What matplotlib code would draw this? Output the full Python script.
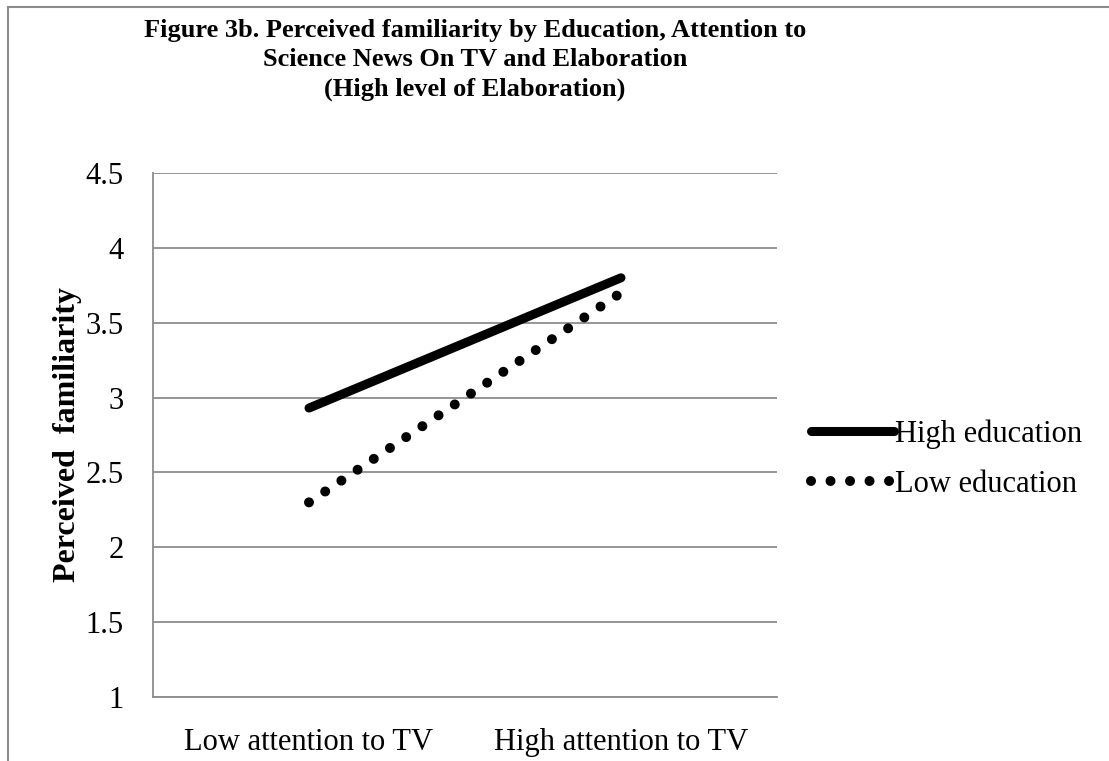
import matplotlib
matplotlib.use("Agg")
import matplotlib.pyplot as plt
from matplotlib.lines import Line2D

categories = ["Low attention to TV", "High attention to TV"]
high_edu = [2.93, 3.80]
low_edu = [2.30, 3.70]
yticks = [1, 1.5, 2, 2.5, 3, 3.5, 4, 4.5]
ytick_labels = ["1", "1.5", "2", "2.5", "3", "3.5", "4", "4.5"]

plt.rcParams['font.family'] = ['Liberation Serif', 'DejaVu Serif']

fig = plt.figure(figsize=(11.09, 7.61), dpi=100)
ax = fig.add_axes([153/1109, 1-697/761, (777-153)/1109, (697-173)/761])

x = list(range(len(categories)))
ax.plot(x, high_edu, color='black', lw=6.5, solid_capstyle='round', label='High education')
ax.plot(x, low_edu, color='black', lw=7.2, linestyle=(0, (0.001, 1.95)), dash_capstyle='round',
        label='Low education')

ax.set_xlim(-0.5, 1.5)
ax.set_ylim(1, 4.5)
ax.set_yticks(yticks)
ax.set_yticklabels(ytick_labels, fontsize=22)
ax.set_xticks(x)
ax.set_xticklabels(categories, fontsize=22)
ax.tick_params(length=0)
ax.tick_params(axis='x', pad=22)
ax.tick_params(axis='y', pad=21)
ax.yaxis.grid(True, color='#8c8c8c', lw=1.3)
ax.set_axisbelow(True)
for s in ['top', 'right']:
    ax.spines[s].set_visible(False)
for s in ['left', 'bottom']:
    ax.spines[s].set_color('#8c8c8c')
    ax.spines[s].set_linewidth(1.3)

ax.set_ylabel('Perceived  familiarity', fontsize=23, fontweight='bold', labelpad=3)

fig.text(475/1109, 1-60/761, 'Figure 3b. Perceived familiarity by Education, Attention to\n'
         'Science News On TV and Elaboration\n(High level of Elaboration)',
         ha='center', va='center', fontsize=19, fontweight='bold', linespacing=1.35)

fig.legend(loc='center left', bbox_to_anchor=(811/1109, 1-459/761), frameon=False,
           fontsize=22, handlelength=2.7, handletextpad=0.05, labelspacing=0.68,
           borderpad=0, borderaxespad=0)

fig.add_artist(Line2D([8/1109, 1], [1-7/761, 1-7/761], color='#8c8c8c', lw=1.5))
fig.add_artist(Line2D([8/1109, 8/1109], [0, 1-7/761], color='#8c8c8c', lw=1.5))

fig.savefig('out.png', dpi=100)
